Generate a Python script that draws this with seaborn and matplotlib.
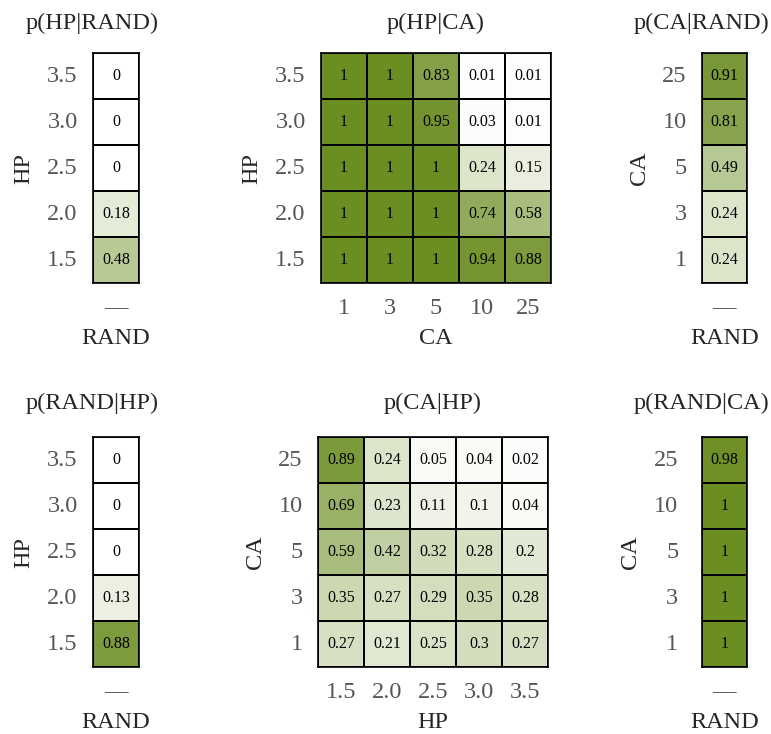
import numpy as np
import pandas as pd
import matplotlib
matplotlib.use("Agg")
import matplotlib.pyplot as plt
import seaborn as sns
from matplotlib.colors import LinearSegmentedColormap

sns.set_style("white")
plt.rcParams["font.family"] = ["Liberation Serif", "DejaVu Serif"]

# levels (bottom to top for y axes)
hp_levels = ["1.5", "2.0", "2.5", "3.0", "3.5"]
ca_levels = ["1", "3", "5", "10", "25"]
rand_levels = ["––"]

# p(HP|RAND), HP 1.5 .. 3.5
p_hp_rand = [0.48, 0.18, 0, 0, 0]
# p(HP|CA): rows HP 1.5 .. 3.5, cols CA 1 .. 25
p_hp_ca = [
    [1, 1, 1, 0.94, 0.88],
    [1, 1, 1, 0.74, 0.58],
    [1, 1, 1, 0.24, 0.15],
    [1, 1, 0.95, 0.03, 0.01],
    [1, 1, 0.83, 0.01, 0.01],
]
# p(CA|RAND), CA 1 .. 25
p_ca_rand = [0.24, 0.24, 0.49, 0.81, 0.91]
# p(RAND|HP), HP 1.5 .. 3.5
p_rand_hp = [0.88, 0.13, 0, 0, 0]
# p(CA|HP): rows CA 1 .. 25, cols HP 1.5 .. 3.5
p_ca_hp = [
    [0.27, 0.21, 0.25, 0.3, 0.27],
    [0.35, 0.27, 0.29, 0.35, 0.28],
    [0.59, 0.42, 0.32, 0.28, 0.2],
    [0.69, 0.23, 0.11, 0.1, 0.04],
    [0.89, 0.24, 0.05, 0.04, 0.02],
]
# p(RAND|CA), CA 1 .. 25
p_rand_ca = [1, 1, 1, 1, 0.98]

cmap = LinearSegmentedColormap.from_list("wg", ["#ffffff", "#6b8e23"])

W, H = 771, 734
fig = plt.figure(figsize=(W / 100, H / 100), dpi=100)


def px_axes(left, top, width, height):
    return fig.add_axes([left / W, 1 - (top + height) / H, width / W, height / H])


def draw(ax, values, ylev, xlev, ylabel, xlabel, ypad=11):
    df = pd.DataFrame(np.array(values, dtype=float).reshape(len(ylev), len(xlev)),
                      index=ylev, columns=xlev).iloc[::-1]
    labels = df.apply(lambda col: col.map(lambda v: f"{v:g}"))
    sns.heatmap(df, ax=ax, cmap=cmap, vmin=0, vmax=1, cbar=False,
                annot=labels.values, fmt="", linewidths=1.2, linecolor="black",
                annot_kws={"fontsize": 11.5, "color": "black"})
    for s in ax.spines.values():
        s.set_visible(True)
        s.set_color("black")
        s.set_linewidth(1.2)
    ax.tick_params(axis="both", length=0, labelsize=17.5, labelcolor="#555555")
    ax.tick_params(axis="y", pad=ypad, rotation=0)
    ax.tick_params(axis="x", pad=11, rotation=0)
    ax.set_ylabel(ylabel, fontsize=17.5, labelpad=9)
    ax.set_xlabel(xlabel, fontsize=17.5, labelpad=6)


ax1 = px_axes(93, 53, 46, 230)
draw(ax1, [[v] for v in p_hp_rand], hp_levels, rand_levels, "HP", "RAND")
ax2 = px_axes(321, 53, 230, 230)
draw(ax2, p_hp_ca, hp_levels, ca_levels, "HP", "CA")
ax3 = px_axes(702, 53, 45, 230)
draw(ax3, [[v] for v in p_ca_rand], ca_levels, rand_levels, "CA", "RAND")
ax4 = px_axes(93, 437, 46, 230)
draw(ax4, [[v] for v in p_rand_hp], hp_levels, rand_levels, "HP", "RAND")
ax5 = px_axes(318, 437, 230, 230)
draw(ax5, p_ca_hp, ca_levels, hp_levels, "CA", "HP")
ax6 = px_axes(702, 437, 45, 230)
draw(ax6, [[v] for v in p_rand_ca], ca_levels, rand_levels, "CA", "RAND", ypad=17)

titles = [("p(HP|RAND)", 92, 23), ("p(HP|CA)", 436, 23), ("p(CA|RAND)", 702, 23),
          ("p(RAND|HP)", 92, 403), ("p(CA|HP)", 433, 403), ("p(RAND|CA)", 702, 403)]
for t, x, y in titles:
    fig.text(x / W, 1 - y / H, t, ha="center", va="center", fontsize=17.5)

fig.savefig("out.png", dpi=100)
